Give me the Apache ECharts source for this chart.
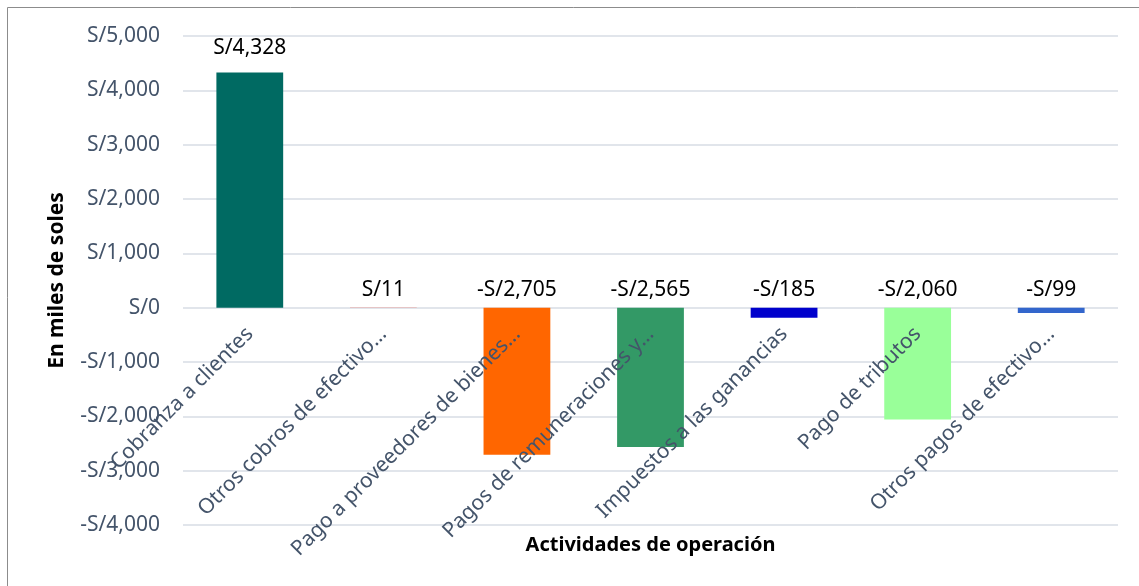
<!DOCTYPE html>
<html>
<head>
<meta charset="utf-8">
<script src="https://cdn.jsdelivr.net/npm/echarts@6/dist/echarts.min.js"></script>
<style>
  html, body { margin: 0; padding: 0; background: #fff; }
  #chart { width: 1139px; height: 586px; }
</style>
</head>
<body>
<div id="chart"></div>
<script>
// categories as shown on the axis (Excel truncates the long ones)
var categories = [
  'Cobranza a clientes',
  'Otros cobros de efectivo…',
  'Pago a proveedores de bienes…',
  'Pagos de remuneraciones y…',
  'Impuestos a las ganancias',
  'Pago de tributos',
  'Otros pagos de efectivo…'
];
var values = [4328, 11, -2705, -2565, -185, -2060, -99];
var barColors = ['#006A62', '#E6B9B8', '#FF6600', '#339966', '#0000CC', '#99FF99', '#3366CC'];

var fontFam = '"Noto Sans", sans-serif';
var yMin = -4000, yMax = 5000;
var gridTop = 36, gridBottom = 61, chartH = 586;

function soles(v) {
  var s = 'S/' + Math.abs(v).toLocaleString('en-US');
  return v < 0 ? '-' + s : s;
}

// onZero doesn't seem to kick in here, so shift the category axis up to the zero line by hand
var plotH = chartH - gridTop - gridBottom;
var zeroShift = plotH * (0 - yMin) / (yMax - yMin);

var chart = echarts.init(document.getElementById('chart'));

var seriesData = values.map(function (v, i) {
  return {
    value: v,
    itemStyle: { color: barColors[i] },
    label: { distance: v > 1000 ? 14 : 7 }
  };
});

var option = {
  animation: false,
  textStyle: { fontFamily: fontFam },
  grid: {
    left: 183,
    right: 21,
    top: gridTop,
    bottom: gridBottom,
    outerBoundsMode: 'none'
  },
  graphic: [{
    type: 'rect',
    shape: { x: 7.5, y: 7.5, width: 1300, height: 700 },
    style: { fill: 'none', stroke: '#8c8c8c', lineWidth: 1 },
    silent: true
  }],
  xAxis: {
    type: 'category',
    data: categories,
    position: 'bottom',
    offset: -zeroShift,
    z: 10, // labels sit on top of the bars, like in Excel
    name: 'Actividades de operación',
    nameLocation: 'middle',
    nameGap: 228,
    nameMoveOverlap: false,
    nameTextStyle: { fontSize: 20, fontWeight: 'bold', color: '#000' },
    axisLine: { show: false, onZero: false },
    axisTick: { show: false },
    axisLabel: {
      rotate: 45,
      interval: 0,
      margin: 23,
      fontSize: 21,
      color: '#44546A'
    }
  },
  yAxis: {
    type: 'value',
    min: yMin,
    max: yMax,
    interval: 1000,
    name: 'En miles de soles',
    nameLocation: 'middle',
    nameGap: 115,
    nameTextStyle: { fontSize: 21, fontWeight: 'bold', color: '#000' },
    axisLine: { show: false },
    axisTick: { show: false },
    axisLabel: {
      margin: 23,
      fontSize: 21,
      color: '#44546A',
      formatter: soles
    },
    splitLine: { lineStyle: { color: '#e1e5eb', width: 2 } }
  },
  series: [{
    type: 'bar',
    data: seriesData,
    barWidth: '50%',
    label: {
      show: true,
      position: 'top',
      fontSize: 21,
      color: '#000',
      formatter: function (p) { return soles(p.value); }
    }
  }]
};

chart.setOption(option);
</script>
</body>
</html>
